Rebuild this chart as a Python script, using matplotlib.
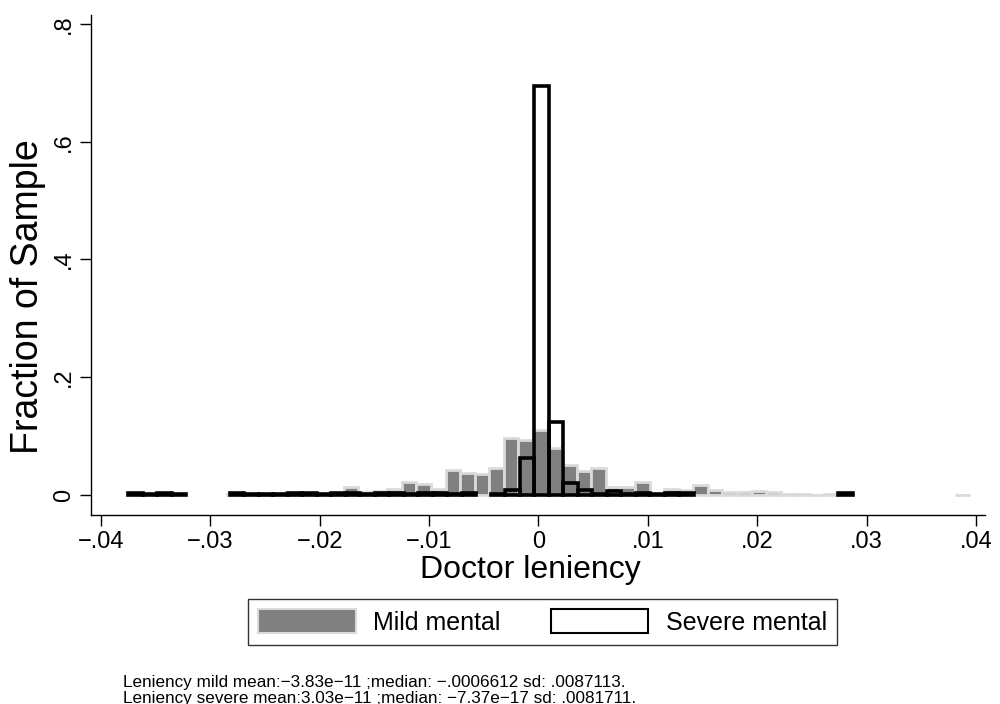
import matplotlib
matplotlib.use("Agg")
import matplotlib.pyplot as plt
import numpy as np
from matplotlib.patches import Patch

plt.rcParams['font.family'] = ['Liberation Sans', 'DejaVu Sans']

# Histogram of doctor leniency, fraction of sample per bin
# Mild mental: 58 bins
mild_start = -0.037802
mild_width = 0.001332
mild_frac = [0.0, 0.0, 0.0, 0.0, 0.0, 0.0, 0.0, 0.001, 0.001, 0.001,
             0.001, 0.0045, 0.002, 0.002, 0.002, 0.0135, 0.0046, 0.0068, 0.0105, 0.0226,
             0.018, 0.0095, 0.042, 0.0368, 0.036, 0.0465, 0.0963, 0.094, 0.110, 0.0804,
             0.051, 0.041, 0.045, 0.013, 0.013, 0.0222, 0.002, 0.0097, 0.008, 0.0178,
             0.0092, 0.0056, 0.005, 0.0075, 0.005, 0.001, 0.001, 0.0005, 0.001, 0.0,
             0.0, 0.0, 0.0, 0.0, 0.0, 0.0, 0.0, 0.0003]

# Severe mental: 50 bins
severe_start = -0.0375
severe_width = 0.001325
severe_frac = [0.003, 0.001, 0.003, 0.002, 0.0, 0.0, 0.0, 0.003, 0.001, 0.002,
               0.001, 0.003, 0.003, 0.001, 0.003, 0.003, 0.002, 0.003, 0.003, 0.001,
               0.004, 0.003, 0.001, 0.003, 0.0, 0.002, 0.009, 0.063, 0.694, 0.1246,
               0.021, 0.0085, 0.002, 0.007, 0.002, 0.003, 0.001, 0.003, 0.003, 0.0,
               0.0, 0.0, 0.0, 0.0, 0.0, 0.0, 0.0, 0.0, 0.0, 0.003]

xticks = [-0.04, -0.03, -0.02, -0.01, 0, 0.01, 0.02, 0.03, 0.04]
xtick_labels = ['\u2212.04', '\u2212.03', '\u2212.02', '\u2212.01', '0', '.01', '.02', '.03', '.04']
yticks = [0, 0.2, 0.4, 0.6, 0.8]
ytick_labels = ['0', '.2', '.4', '.6', '.8']

notes = ["Leniency mild mean:\u22123.83e\u221211 ;median: \u2212.0006612 sd: .0087113.",
         "Leniency severe mean:3.03e\u221211 ;median: \u22127.37e\u221217 sd: .0081711."]

mild_gray = '#808080'
mild_edge = '#dadada'

fig = plt.figure(figsize=(10, 7.04), dpi=100)
ax = fig.add_axes([0.091, 1 - 515 / 704, 0.985 - 0.091, (515 - 15) / 704])

# Mild bars (filled grey, pale outline)
mild_frac = np.array(mild_frac)
mild_centers = mild_start + (np.arange(len(mild_frac)) + 0.5) * mild_width
keep = mild_frac > 0
ax.bar(mild_centers[keep], mild_frac[keep], width=mild_width, color=mild_gray,
       edgecolor=mild_edge, linewidth=2.0, zorder=2)

# Severe bars (black outline, no fill)
severe_frac = np.array(severe_frac)
severe_centers = severe_start + (np.arange(len(severe_frac)) + 0.5) * severe_width
keep = severe_frac > 0
ax.bar(severe_centers[keep], severe_frac[keep], width=severe_width, facecolor='none',
       edgecolor='black', linewidth=2.6, zorder=3)

ax.set_xlim(-0.04091, 0.04082)
ax.set_ylim(-0.034, 0.8153)
ax.spines['top'].set_visible(False)
ax.spines['right'].set_visible(False)
ax.spines['left'].set_linewidth(1.0)
ax.spines['bottom'].set_linewidth(1.0)

ax.set_xticks(xticks)
ax.set_xticklabels(xtick_labels, fontsize=17)
ax.set_yticks(yticks)
ax.set_yticklabels(ytick_labels, fontsize=17, rotation=90, va='center')
ax.tick_params(axis='both', length=8, width=1.0, direction='out')

ax.set_xlabel('Doctor leniency', fontsize=23)
ax.xaxis.set_label_coords((530 - 91) / 894, (515 - 570) / 500, transform=ax.transAxes)
ax.xaxis.label.set_va('center')
ax.set_ylabel('Fraction of Sample', fontsize=27)
ax.yaxis.set_label_coords((28 - 91) / 894, (515 - 297) / 500, transform=ax.transAxes)
ax.yaxis.label.set_va('center')

handles = [Patch(facecolor=mild_gray, edgecolor=mild_edge, linewidth=1.5),
           Patch(facecolor='white', edgecolor='black', linewidth=1.5)]
leg = fig.legend(handles, ['Mild mental', 'Severe mental'], ncol=2,
                 loc='center', bbox_to_anchor=(0.5425, 1 - 622 / 704),
                 fontsize=18, frameon=True, fancybox=False, edgecolor='black',
                 handlelength=3.9, handleheight=1.05, handletextpad=0.7,
                 columnspacing=2.0, borderpad=0.4)
leg.get_frame().set_linewidth(1.0)

fig.text(0.123, 1 - 687 / 704, notes[0], fontsize=12.3, va='baseline', ha='left')
fig.text(0.123, 1 - 703 / 704, notes[1], fontsize=12.3, va='baseline', ha='left')

fig.savefig('out.png', dpi=100, facecolor='white')
